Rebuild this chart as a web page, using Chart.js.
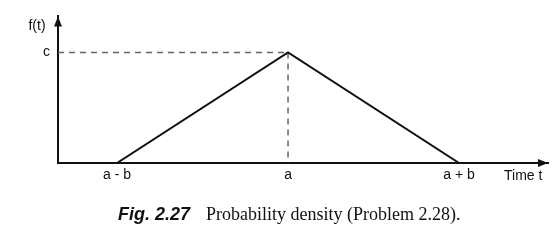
<!DOCTYPE html>
<html>
<head>
<meta charset="utf-8">
<script src="https://cdn.jsdelivr.net/npm/chart.js@4"></script>
<style>
  body { margin: 0; background: #fff; }
  #wrap { position: relative; width: 560px; height: 240px; }
  #caption { position: absolute; left: 118px; top: 204px; white-space: nowrap; font-size: 18px; color: #111; }
  #caption b { font-family: "Liberation Sans", Arial, sans-serif; font-style: italic; font-size: 18px; margin-right: 16px; }
  #caption span { font-family: "Liberation Serif", "Times New Roman", serif; }
</style>
</head>
<body>
<div id="wrap">
  <canvas id="chart" width="560" height="240"></canvas>
  <div id="caption"><b>Fig. 2.27</b><span>Probability density (Problem 2.28).</span></div>
</div>
<script>
// t axis: a - b = -1, a = 0, a + b = 1 ; density peak c = 1
const xTickValues = [-1, 0, 1];
const xTickLabels = ['a - b', 'a', 'a + b'];
const yTickValues = [1];
const yTickLabels = ['c'];
const xMin = -1.345, xMax = 1.52;
const yMin = 0, yMax = 1.327;

const densityX = [-1, 0, 1];
const densityY = [0, 1, 0];
const peakX = 0, peakY = 1;

const ink = '#111';
const labelFont = '"Liberation Sans", Arial, sans-serif';

const arrowPlugin = {
  id: 'arrows',
  afterDraw(chart) {
    const ctx = chart.ctx;
    const a = chart.chartArea;
    ctx.save();
    ctx.fillStyle = ink;
    // y arrow
    ctx.beginPath();
    ctx.moveTo(a.left, a.top);
    ctx.lineTo(a.left - 4, a.top + 10);
    ctx.lineTo(a.left + 4, a.top + 10);
    ctx.closePath();
    ctx.fill();
    // x arrow
    ctx.beginPath();
    ctx.moveTo(a.right, a.bottom);
    ctx.lineTo(a.right - 10, a.bottom - 4);
    ctx.lineTo(a.right - 10, a.bottom + 4);
    ctx.closePath();
    ctx.fill();
    ctx.font = '14px ' + labelFont;
    ctx.textBaseline = 'middle';
    ctx.textAlign = 'center';
    ctx.fillText('f(t)', 37, 26);
    ctx.textAlign = 'left';
    ctx.fillText('Time t', 504, 176);
    ctx.restore();
  }
};

new Chart(document.getElementById('chart'), {
  type: 'line',
  data: {
    datasets: [
      {
        data: densityX.map((x, i) => ({ x: x, y: densityY[i] })),
        borderColor: ink,
        borderWidth: 2,
        pointRadius: 0,
        tension: 0
      },
      {
        data: [{ x: xMin, y: peakY }, { x: peakX, y: peakY }],
        borderColor: '#666',
        borderWidth: 1.5,
        borderDash: [6, 5],
        pointRadius: 0
      },
      {
        data: [{ x: peakX, y: peakY }, { x: peakX, y: 0 }],
        borderColor: '#666',
        borderWidth: 1.5,
        borderDash: [6, 5],
        pointRadius: 0
      }
    ]
  },
  options: {
    responsive: false,
    animation: false,
    layout: { padding: { left: 38, right: 12, top: 13, bottom: 47 } },
    plugins: { legend: { display: false }, tooltip: { enabled: false } },
    scales: {
      x: {
        type: 'linear',
        min: xMin,
        max: xMax,
        grid: { display: false, drawTicks: false },
        border: { display: true, color: ink, width: 2 },
        afterBuildTicks: s => { s.ticks = xTickValues.map(v => ({ value: v })); },
        afterFit: s => { s.height = 30; },
        ticks: {
          padding: 4,
          color: ink,
          font: { family: labelFont, size: 14 },
          callback: v => xTickLabels[xTickValues.indexOf(v)]
        }
      },
      y: {
        min: yMin,
        max: yMax,
        grid: { display: false, drawTicks: false },
        border: { display: true, color: ink, width: 2 },
        afterBuildTicks: s => { s.ticks = yTickValues.map(v => ({ value: v })); },
        afterFit: s => { s.width = 20; },
        ticks: {
          padding: 8,
          color: ink,
          font: { family: labelFont, size: 14 },
          callback: v => yTickLabels[yTickValues.indexOf(v)]
        }
      }
    }
  },
  plugins: [arrowPlugin]
});
</script>
</body>
</html>
